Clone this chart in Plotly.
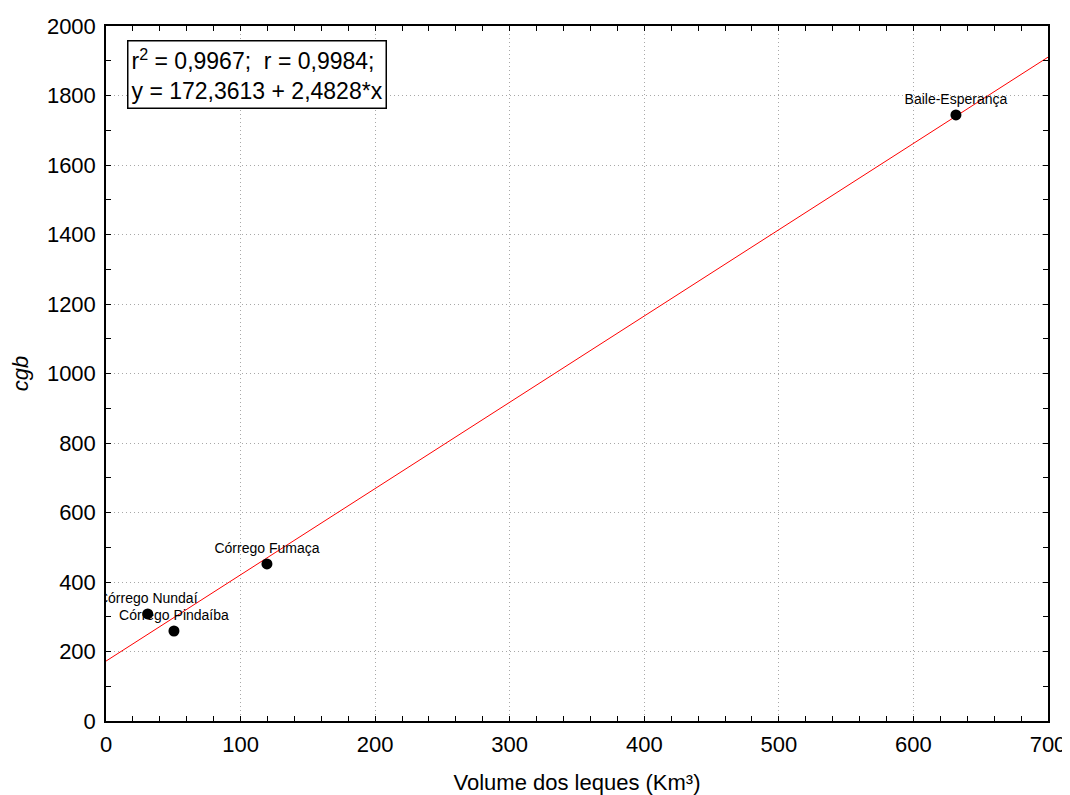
import plotly.graph_objects as go

names = ["Córrego Nundaí", "Córrego Pindaíba", "Córrego Fumaça", "Baile-Esperança"]
volume = [31, 50.5, 119.6, 631.6]
cgb = [308, 259, 452, 1744]
intercept = 172.3613
slope = 2.4828
fit_x = [0, 700]
fit_y = [intercept + slope * v for v in fit_x]

font = "Liberation Sans, Arial, sans-serif"

fig = go.Figure()
fig.add_trace(go.Scatter(x=fit_x, y=fit_y, mode="lines",
                         line=dict(color="#ff0000", width=1), hoverinfo="skip",
                         showlegend=False))
fig.add_trace(go.Scatter(x=volume, y=cgb, mode="markers+text", text=names,
                         textposition="top center", cliponaxis=True,
                         textfont=dict(family=font, size=14, color="#000000"),
                         marker=dict(color="#000000", size=11, symbol="circle"),
                         showlegend=False))

axis_common = dict(showline=True, linecolor="#000000", linewidth=1.5, mirror="allticks",
                   ticks="inside", ticklen=5, tickwidth=1, tickcolor="#000000",
                   showgrid=True, gridcolor="#a8a8a8", griddash="1px,3px", gridwidth=1,
                   zeroline=False, automargin=False,
                   tickfont=dict(family=font, size=22, color="#000000"))

fig.update_xaxes(range=[0, 700], dtick=100, tick0=0, ticklabelstandoff=3,
                 minor=dict(dtick=20, ticks="inside", ticklen=5, tickcolor="#000000", showgrid=False),
                 title=dict(text="Volume dos leques (Km³)", font=dict(family=font, size=22, color="#000000"), standoff=18),
                 **axis_common)
fig.update_yaxes(range=[0, 2000], dtick=200, tick0=0, ticklabelstandoff=4,
                 minor=dict(dtick=100, ticks="inside", ticklen=5, tickcolor="#000000", showgrid=False),
                 title=dict(text="<i>cgb</i>", font=dict(family=font, size=22, color="#000000"), standoff=14),
                 **axis_common)

fig.add_annotation(xref="paper", yref="paper", x=0.0223, y=0.98, xanchor="left", yanchor="top",
                   text="r<sup>2</sup> = 0,9967;  r = 0,9984;<br>y = 172,3613 + 2,4828*x",
                   showarrow=False, align="left",
                   font=dict(family=font, size=23, color="#000000"),
                   bordercolor="#000000", borderwidth=1.5, borderpad=3, bgcolor="#ffffff")

fig.update_layout(width=1062, height=787, paper_bgcolor="#ffffff", plot_bgcolor="#ffffff",
                  margin=dict(l=98, r=22, t=18, b=74, autoexpand=False), font=dict(family=font))

fig.write_html("out.html")
